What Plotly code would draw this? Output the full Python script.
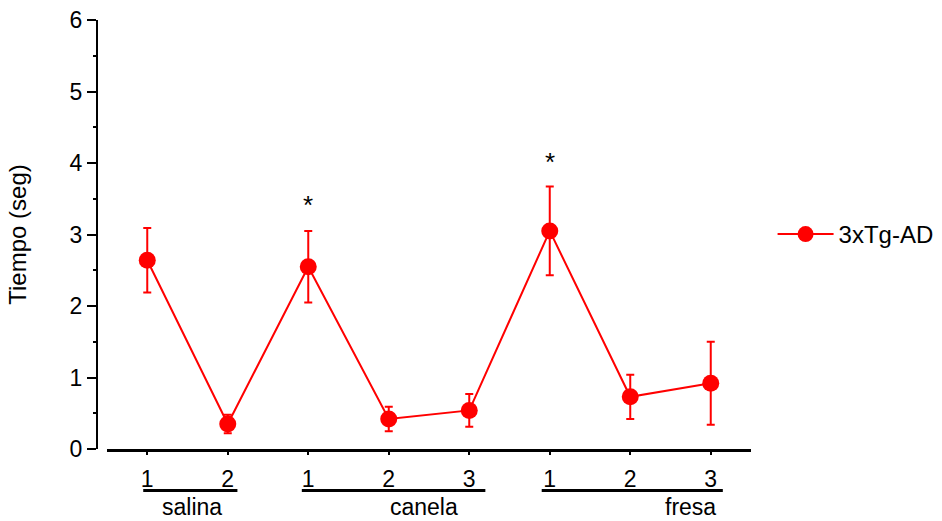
import plotly.graph_objects as go

# Session sequence: trial number within each odour condition
positions = [1, 2, 3, 4, 5, 6, 7, 8]
trial_labels = ["1", "2", "1", "2", "3", "1", "2", "3"]
tiempo = [2.64, 0.35, 2.55, 0.42, 0.54, 3.05, 0.73, 0.92]
error = [0.45, 0.13, 0.50, 0.17, 0.23, 0.62, 0.31, 0.58]

groups = ["salina", "canela", "fresa"]
group_spans = [(0.95, 2.12), (2.92, 5.20), (5.90, 8.15)]
group_label_x = [1.55, 4.44, 7.75]

significant = [3, 6]
star_y = [3.41, 4.01]

RED = "#ff0000"
FONT = "Liberation Sans, Arial, sans-serif"

fig = go.Figure()
fig.add_trace(go.Scatter(
    x=positions, y=tiempo,
    mode="lines+markers",
    name="3xTg-AD",
    line=dict(color=RED, width=2),
    marker=dict(color=RED, size=17, symbol="circle"),
    error_y=dict(type="data", array=error, visible=True,
                 color=RED, thickness=2, width=4),
))

# significance markers
for xs, ys in zip(significant, star_y):
    fig.add_annotation(x=xs, y=ys, text="*", showarrow=False,
                       font=dict(size=26, color="black", family=FONT),
                       xref="x", yref="y", yanchor="middle")

# group underlines and names
for name, (x0, x1), lx in zip(groups, group_spans, group_label_x):
    fig.add_shape(type="line", xref="x", yref="paper",
                  x0=x0, x1=x1, y0=-0.097, y1=-0.097,
                  line=dict(color="black", width=3))
    fig.add_annotation(x=lx, y=-0.168, xref="x", yref="paper",
                       text=name, showarrow=False, yanchor="bottom",
                       borderpad=0,
                       font=dict(size=23, color="black", family=FONT))

fig.update_layout(
    width=942, height=521,
    margin=dict(l=97, r=191, t=20, b=72, autoexpand=False),
    paper_bgcolor="white", plot_bgcolor="white",
    font=dict(family=FONT, size=23, color="black"),
    showlegend=True,
    legend=dict(x=1.033, y=0.5, xanchor="left", yanchor="middle",
                itemwidth=56,
                font=dict(size=24, family=FONT), bgcolor="rgba(0,0,0,0)"),
    xaxis=dict(
        range=[0.5, 8.5], domain=[0.0153, 1],
        tickmode="array", tickvals=positions, ticktext=trial_labels,
        showline=True, linecolor="black", linewidth=3,
        ticks="outside", ticklen=3, tickwidth=2, tickcolor="black",
        ticklabelstandoff=4,
        showgrid=False, zeroline=False,
        tickfont=dict(size=23, family=FONT),
    ),
    yaxis=dict(
        range=[0, 6], anchor="free", position=0,
        tickmode="linear", tick0=0, dtick=1,
        showline=True, linecolor="black", linewidth=2,
        ticks="outside", ticklen=9, tickwidth=2, tickcolor="black",
        minor=dict(dtick=0.5, ticks="outside", ticklen=3, tickwidth=2,
                   tickcolor="black", showgrid=False),
        showgrid=False, zeroline=False,
        tickfont=dict(size=23, family=FONT),
        title=dict(text="Tiempo (seg)", font=dict(size=24, family=FONT),
                   standoff=35),
    ),
)

fig.write_html("out.html")
